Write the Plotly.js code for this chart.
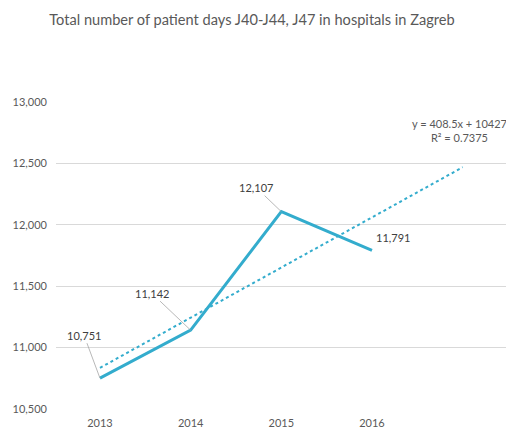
<!DOCTYPE html>
<html>
<head>
<meta charset="utf-8">
<script src="https://cdn.plot.ly/plotly-3.0.1.min.js"></script>
<style>html,body{margin:0;padding:0;background:#fff;}#chart{width:506px;height:429px;}</style>
</head>
<body>
<div id="chart"></div>
<script>
const years = ["2013", "2014", "2015", "2016"];
const patientDays = [10751, 11142, 12107, 11791];
const trendX = [0, 4];
const trendY = [10835, 12469];
const trendLabel = "y = 408.5x + 10427<br>R² = 0.7375";
const yTicks = [10500, 11000, 11500, 12000, 12500, 13000];

const xIdx = years.map((_, i) => i);
const lineColor = "#33accd";
const labelOffsets = [[-16, -43, true], [-39, -37, true], [-25, -24, true], [21, -13, false]];

const annotations = patientDays.map((v, i) => {
  const [ax, ay, arrow] = labelOffsets[i];
  const a = {
    x: xIdx[i], y: v, xref: "x", yref: "y",
    text: v.toLocaleString("en-US"),
    font: {family: "Lato, sans-serif", size: 11, color: "#404040"},
    showarrow: arrow
  };
  if (arrow) {
    Object.assign(a, {ax: ax, ay: ay, arrowhead: 0, arrowwidth: 0.8, arrowcolor: "#a6a6a6", standoff: 0});
  } else {
    Object.assign(a, {xshift: ax, yshift: -ay});
  }
  return a;
});
annotations.push({
  x: 3.96, y: 12770, xref: "x", yref: "y",
  text: trendLabel, showarrow: false, align: "center",
  font: {family: "Lato, sans-serif", size: 11, color: "#595959"}
});

const data = [
  {x: xIdx, y: patientDays, type: "scatter", mode: "lines",
   line: {color: lineColor, width: 3}, hoverinfo: "skip"},
  {x: trendX, y: trendY, type: "scatter", mode: "lines",
   line: {color: lineColor, width: 2, dash: "dot"}, hoverinfo: "skip"}
];

const layout = {
  width: 506, height: 429,
  margin: {l: 56, r: 0, t: 102, b: 20},
  paper_bgcolor: "#fff", plot_bgcolor: "#fff",
  showlegend: false,
  title: {text: "Total number of patient days J40-J44, J47 in hospitals in Zagreb",
          font: {family: "Lato, sans-serif", size: 14.6, color: "#595959"},
          x: 0.498, xref: "container", xanchor: "center",
          y: 1 - 20/429, yref: "container", yanchor: "middle"},
  xaxis: {range: [-0.485, 4.478], tickvals: xIdx, ticktext: years,
          showgrid: false, zeroline: false, showline: false, ticks: "",
          ticklabelstandoff: 6,
          tickfont: {family: "Lato, sans-serif", size: 11, color: "#595959"}},
  yaxis: {range: [10500, 13000], tickvals: yTicks,
          ticktext: yTicks.map(v => v.toLocaleString("en-US")),
          showgrid: true, gridcolor: "#d9d9d9", gridwidth: 1,
          zeroline: false, showline: false, ticks: "",
          ticklabelstandoff: 8,
          tickfont: {family: "Lato, sans-serif", size: 11, color: "#595959"}},
  annotations: annotations
};

Plotly.newPlot("chart", data, layout, {staticPlot: true, displayModeBar: false});
</script>
</body>
</html>
